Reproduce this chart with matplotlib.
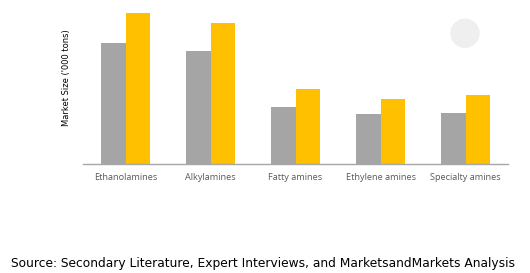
import matplotlib
matplotlib.use("Agg")
import matplotlib.pyplot as plt
from matplotlib.patches import Ellipse

categories = ["Ethanolamines", "Alkylamines", "Fatty amines", "Ethylene amines", "Specialty amines"]
series_a = [121, 113, 57.6, 50, 51.6]
series_b = [151.3, 141.6, 75, 65, 69.6]

GRAY = "#a5a5a5"
GOLD = "#ffc000"

fig = plt.figure(figsize=(5.3, 2.73), dpi=100)
ax = fig.add_axes([83 / 530, 1 - 164.3 / 273, 425 / 530, 154.3 / 273])

x = list(range(len(categories)))
w = 0.285
ax.bar([i - w / 2 for i in x], series_a, width=w, color=GRAY)
ax.bar([i + w / 2 for i in x], series_b, width=w, color=GOLD)

ax.set_xlim(-0.5, len(categories) - 0.5)
ax.set_ylim(0, 154.3)
ax.set_xticks(x)
ax.set_xticklabels(categories, fontsize=6.6, color="#595959", family="Open Sans")
ax.tick_params(axis="x", length=0, pad=6)
ax.set_yticks([])
for s in ["top", "right", "left"]:
    ax.spines[s].set_visible(False)
ax.spines["bottom"].set_color("#a6a6a6")
ax.spines["bottom"].set_linewidth(1)

fig.text(67 / 530, 1 - 78 / 273, "Market Size ('000 tons)", rotation=90,
         ha="center", va="center", fontsize=6, color="black")

# faint decorative circle, top right
fig.patches.append(Ellipse((465 / 530, 1 - 33.3 / 273), 28 / 530, 28 / 273,
                           transform=fig.transFigure, color="#efefef", zorder=0))

fig.text(11 / 530, 1 - 264 / 273, "Source: Secondary Literature, Expert Interviews, and MarketsandMarkets Analysis",
         ha="left", va="center", fontsize=8.8, color="black")

fig.savefig("out.png", dpi=100)
